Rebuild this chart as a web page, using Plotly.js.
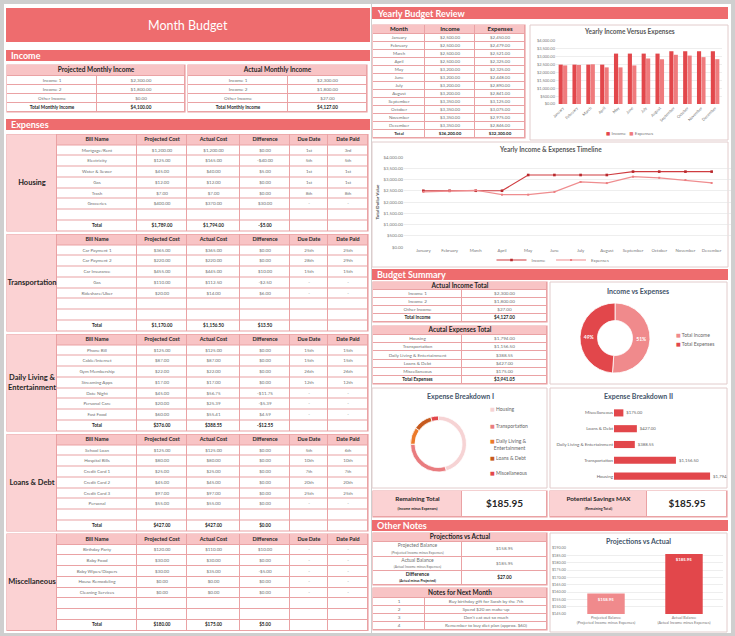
<!DOCTYPE html>
<html>
<head>
<meta charset="utf-8">
<script src="https://cdn.plot.ly/plotly-3.0.1.min.js"></script>
<style>html,body{margin:0;padding:0;background:#cfcfcf;overflow:hidden}#chart{width:735px;height:636px}</style>
</head>
<body>
<div id="chart"></div>
<script>
// ================= DATA =================
const incomeNames = ['Income 1', 'Income 2', 'Other Income', 'Total Monthly Income'];
const projectedIncome = [2300, 1800, 0, 4100];
const actualIncome = [2300, 1800, 27, 4127];

const billColumns = ['Bill Name', 'Projected Cost', 'Actual Cost', 'Difference', 'Due Date', 'Date Paid'];
const expenseCategories = ['Housing', 'Transportation', 'Daily Living & Entertainment', 'Loans & Debt', 'Miscellaneous'];

const housingBills = ['Mortgage/Rent', 'Electricity', 'Water & Sewer', 'Gas', 'Trash', 'Groceries'];
const housingProjected = [1200, 125, 45, 12, 7, 400];
const housingActual = [1200, 165, 40, 12, 7, 370];
const housingDifference = [0, -40, 5, 0, 0, 30];
const housingDue = ['1st', '5th', '1st', '1st', '8th', '-'];
const housingPaid = ['3rd', '5th', '1st', '1st', '8th', '-'];
const housingTotals = [1789, 1794, -5];

const transportBills = ['Car Payment 1', 'Car Payment 2', 'Car Insurance', 'Gas', 'Rideshare/Uber'];
const transportProjected = [365, 220, 455, 110, 20];
const transportActual = [365, 220, 445, 112.5, 14];
const transportDifference = [0, 0, 10, -2.5, 6];
const transportDue = ['25th', '28th', '15th', '-', '-'];
const transportPaid = ['25th', '29th', '15th', '-', '-'];
const transportTotals = [1170, 1156.5, 13.5];

const dailyBills = ['Phone Bill', 'Cable/Internet', 'Gym Membership', 'Streaming Apps', 'Date Night', 'Personal Care', 'Fast Food'];
const dailyProjected = [125, 87, 22, 17, 45, 20, 60];
const dailyActual = [125, 87, 22, 17, 56.75, 25.39, 55.41];
const dailyDifference = [0, 0, 0, 0, -11.75, -5.39, 4.59];
const dailyDue = ['15th', '15th', '26th', '12th', '-', '-', '-'];
const dailyPaid = ['15th', '15th', '26th', '12th', '-', '-', '-'];
const dailyTotals = [376, 388.55, -12.55];

const loanBills = ['School Loan', 'Hospital Bills', 'Credit Card 1', 'Credit Card 2', 'Credit Card 3', 'Personal'];
const loanProjected = [125, 80, 25, 45, 97, 55];
const loanActual = [125, 80, 25, 45, 97, 55];
const loanDifference = [0, 0, 0, 0, 0, 0];
const loanDue = ['5th', '10th', '7th', '20th', '25th', '-'];
const loanPaid = ['6th', '10th', '7th', '20th', '25th', '-'];
const loanTotals = [427, 427, 0];

const miscBills = ['Birthday Party', 'Baby Food', 'Baby Wipes/Diapers', 'House Remodeling', 'Cleaning Services'];
const miscProjected = [120, 30, 30, 0, 0];
const miscActual = [110, 30, 35, 0, 0];
const miscDifference = [10, 0, -5, 0, 0];
const miscDue = ['-', '-', '-', '-', '-'];
const miscPaid = ['-', '-', '-', '-', '-'];
const miscTotals = [180, 175, 5];

const yearlyColumns = ['Month', 'Income', 'Expenses'];
const months = ['January', 'February', 'March', 'April', 'May', 'June', 'July', 'August', 'September', 'October', 'November', 'December'];
const monthlyIncome = [2500, 2500, 2500, 2500, 3200, 3200, 3200, 3200, 3350, 3350, 3350, 3350];
const monthlyExpenses = [2450, 2479, 2521, 2325, 2325, 2448, 2890, 2841, 3125, 3075, 2975, 2846];
const yearlyTotals = [36200, 32300];
const seriesNames = ['Income', 'Expenses'];

const summaryIncomeNames = ['Income 1', 'Income 2', 'Other Income', 'Total Income'];
const summaryIncomeValues = [2300, 1800, 27, 4127];
const expenseActualTotals = [1794, 1156.5, 388.55, 427, 175];
const totalExpenses = 3941.05;
const incomeVsExpenseLabels = ['Total Income', 'Total Expenses'];
const incomeVsExpenseValues = [4127, 3941.05];
const remainingTotal = 185.95;
const potentialSavings = 185.95;

const projectionNames = ['Projected Balance', 'Actual Balance', 'Difference'];
const projectionNotes = ['(Projected Income minus Expenses)', '(Actual Income minus Expenses)', '(Actual minus Projected)'];
const projectionValues = [158.95, 185.95, 27];
const noteNumbers = ['1', '2', '3', '4'];
const notes = ['Buy birthday gift for Sarah by the 7th', 'Spend $20 on make-up', "Don't eat out so much", 'Remember to buy diet plan (approx. $60)'];

// ================= STYLE =================
const W = 735, H = 636;
const FONT = 'Lato, "DejaVu Sans", sans-serif';
const RED = '#ee6c6e';
const HEAD = '#f8c4c5';
const LABEL = '#fbd2d3';
const BORDER = '#eaa2a4';
const DARK = '#e2474b';
const LIGHT = '#ef7b7d';
const PIE_LIGHT = '#f08a8c';
const SLATE = '#44546a';
const GREY = '#6f6f6f';
const DARKT = '#262626';
const BOXLINE = '#e2cccc';
const BREAK_COLORS = ['#f6d3d4', '#e97c7f', '#ec7a2a', '#c65a1e', '#e2474b'];

const fmt = v => (v < 0 ? '-$' : '$') + Math.abs(v).toFixed(2).replace(/\B(?=(\d{3})+(?!\d))/g, ',');
const px = x => x / W;
const py = y => 1 - y / H;
const edges = arr => arr.reduce((a, v) => { a.push(a[a.length - 1] + v); return a; }, [0]);

const traces = [];
const shapes = [];
const annotations = [];
const layout = {
  width: W, height: H, margin: {l: 0, r: 0, t: 0, b: 0},
  paper_bgcolor: '#cfcfcf', plot_bgcolor: 'rgba(0,0,0,0)',
  font: {family: FONT, color: '#666'}, showlegend: true, hovermode: false, dragmode: false,
  shapes: shapes, annotations: annotations
};

let axisCount = 0;
function newAxes(rect, xOpt, yOpt) {
  axisCount++;
  const s = axisCount === 1 ? '' : String(axisCount);
  layout['xaxis' + s] = Object.assign({domain: [px(rect[0]), px(rect[2])], anchor: 'y' + s, fixedrange: true}, xOpt);
  layout['yaxis' + s] = Object.assign({domain: [py(rect[3]), py(rect[1])], anchor: 'x' + s, fixedrange: true}, yOpt);
  return {x: 'x' + s, y: 'y' + s};
}
function rectShape(rect, fill, lineColor, lineWidth) {
  shapes.push({type: 'rect', xref: 'paper', yref: 'paper', x0: px(rect[0]), x1: px(rect[2]), y0: py(rect[3]), y1: py(rect[1]),
    fillcolor: fill, line: {color: lineColor || fill, width: lineWidth || 0}, layer: 'below'});
}
function label(x, y, text, size, color, anchor) {
  annotations.push({xref: 'paper', yref: 'paper', x: px(x), y: py(y), text: text, showarrow: false, align: 'left',
    font: {family: FONT, size: size, color: color}, xanchor: anchor || 'center', yanchor: 'middle'});
}
const swatch = c => '<span style="color:' + c + '">■</span> ';

const PALETTE = ['#ffffff', HEAD, LABEL];
const CSCALE = PALETTE.map((c, i) => [i / (PALETTE.length - 1), c]);
function brickTrace(xe, ye, z, ax) {
  return {type: 'heatmap', x: xe, y: ye, z: z, colorscale: CSCALE, zmin: 0, zmax: PALETTE.length - 1,
    showscale: false, xgap: 1, ygap: 1, hoverinfo: 'skip', xaxis: ax.x, yaxis: ax.y};
}
function drawTable(rect, colW, rowH, cells) {
  const xe = edges(colW), ye = edges(rowH);
  const ax = newAxes(rect,
    {type: 'linear', range: [0, xe[xe.length - 1]], visible: false},
    {type: 'linear', range: [ye[ye.length - 1], 0], visible: false});
  rectShape([rect[0] - 0.6, rect[1] - 0.6, rect[2] + 0.6, rect[3] + 0.6], BORDER);
  const z = rowH.map(() => colW.map(() => 0));
  const merged = [];
  cells.forEach(c => {
    if ((c.rs || 1) === 1 && (c.cs || 1) === 1) z[c.r][c.c] = c.fill || 0;
    else merged.push(c);
  });
  traces.push(brickTrace(xe, ye, z, ax));
  merged.forEach(c => traces.push(brickTrace([xe[c.c], xe[c.c + (c.cs || 1)]], [ye[c.r], ye[c.r + (c.rs || 1)]], [[c.fill || 0]], ax)));
  const t = cells.filter(c => c.text !== undefined && c.text !== '');
  traces.push({type: 'scatter', mode: 'text', xaxis: ax.x, yaxis: ax.y,
    x: t.map(c => (xe[c.c] + xe[c.c + (c.cs || 1)]) / 2),
    y: t.map(c => (ye[c.r] + ye[c.r + (c.rs || 1)]) / 2),
    text: t.map(c => c.text), textposition: 'middle center',
    textfont: {family: FONT, size: t.map(c => c.size), color: t.map(c => c.color)},
    hoverinfo: 'skip', showlegend: false, cliponaxis: false});
}
const b = s => '<b>' + s + '</b>';

function twoColTable(rect, colW, rowH, title, names, values, titleSize) {
  const cells = [{r: 0, c: 0, cs: 2, fill: 1, text: b(title), size: titleSize || 6.5, color: DARKT}];
  names.forEach((n, i) => {
    const last = i === names.length - 1;
    cells.push({r: i + 1, c: 0, text: last ? b(n) : n, size: 4.6, color: last ? DARKT : GREY});
    cells.push({r: i + 1, c: 1, text: last ? b(fmt(values[i])) : fmt(values[i]), size: 4.6, color: last ? DARKT : GREY});
  });
  drawTable(rect, colW, rowH, cells);
}

// ================= BACKGROUND PANELS =================
rectShape([4, 4, 371, 633], '#ffffff');
rectShape([372, 4, 731, 633], '#ffffff');

// ================= LEFT: MONTH BUDGET =================
rectShape([6, 8, 370, 42], RED);
label(188, 25, 'Month Budget', 12.5, '#ffffff');
rectShape([6, 50, 370, 61], RED);
label(9, 55.5, b('Income'), 9, '#ffffff', 'left');

twoColTable([7, 65, 185, 112], [90, 88], [11, 9, 9, 9, 9], 'Projected Monthly Income', incomeNames, projectedIncome);
twoColTable([188, 65, 367, 112], [100, 79], [11, 9, 9, 9, 9], 'Actual Monthly Income', incomeNames, actualIncome);

rectShape([6, 119, 370, 130], RED);
label(9, 124.5, b('Expenses'), 9, '#ffffff', 'left');

const sections = [
  [housingBills, housingProjected, housingActual, housingDifference, housingDue, housingPaid, housingTotals],
  [transportBills, transportProjected, transportActual, transportDifference, transportDue, transportPaid, transportTotals],
  [dailyBills, dailyProjected, dailyActual, dailyDifference, dailyDue, dailyPaid, dailyTotals],
  [loanBills, loanProjected, loanActual, loanDifference, loanDue, loanPaid, loanTotals],
  [miscBills, miscProjected, miscActual, miscDifference, miscDue, miscPaid, miscTotals]
];
const sectionTops = [134.5, 234.5, 334.5, 434.5, 534];
sections.forEach((s, k) => {
  const [bills, proj, act, diff, due, paid, totals] = s;
  const top = sectionTops[k];
  const cells = [{r: 0, c: 0, rs: 9, fill: 2, text: b(expenseCategories[k].replace(' & Entertainment', ' &<br>Entertainment')), size: 7.5, color: DARKT}];
  billColumns.forEach((h, j) => cells.push({r: 0, c: j + 1, fill: 1, text: b(h), size: 5.4, color: DARKT}));
  bills.forEach((name, i) => {
    [name, fmt(proj[i]), fmt(act[i]), fmt(diff[i]), due[i], paid[i]].forEach((t, j) =>
      cells.push({r: i + 1, c: j + 1, text: t, size: 4.5, color: GREY}));
  });
  ['Total', fmt(totals[0]), fmt(totals[1]), fmt(totals[2])].forEach((t, j) =>
    cells.push({r: 8, c: j + 1, text: b(t), size: 4.6, color: DARKT}));
  drawTable([7, top, 368, top + 96.5], [50, 80, 50, 53, 50, 38, 40], Array(9).fill(96.5 / 9), cells);
});

// ================= RIGHT: YEARLY BUDGET REVIEW =================
rectShape([372, 7, 728, 19], RED);
label(375, 13, b('Yearly Budget Review'), 9, '#ffffff', 'left');
(function () {
  const cells = [];
  yearlyColumns.forEach((h, j) => cells.push({r: 0, c: j, fill: 1, text: b(h), size: 6, color: DARKT}));
  months.forEach((m, i) => {
    [m, fmt(monthlyIncome[i]), fmt(monthlyExpenses[i])].forEach((t, j) =>
      cells.push({r: i + 1, c: j, text: t, size: 4.4, color: GREY}));
  });
  ['Total', fmt(yearlyTotals[0]), fmt(yearlyTotals[1])].forEach((t, j) =>
    cells.push({r: 13, c: j, text: b(t), size: 4.4, color: DARKT}));
  drawTable([373, 25, 525, 138], [52, 50, 50], [9].concat(Array(13).fill(8)), cells);
})();

// Chart: Yearly Income Versus Expenses
rectShape([530, 25, 728, 140], '#ffffff', BOXLINE, 1);
label(629, 31.5, b('Yearly Income Versus Expenses'), 6.5, '#595959');
const a1 = newAxes([556, 41, 722, 104],
  {type: 'category', tickangle: -45, tickfont: {size: 4, color: '#777'}, showgrid: false, ticks: '', zeroline: false, showline: false},
  {range: [0, 4000], dtick: 500, tickformat: '$,.2f', tickfont: {size: 4, color: '#777'}, gridcolor: '#e3e3e3', gridwidth: 0.6, zeroline: false, ticks: ''});
traces.push({type: 'bar', name: seriesNames[0], x: months, y: monthlyIncome, width: 0.3, offset: -0.31, marker: {color: DARK}, xaxis: a1.x, yaxis: a1.y, showlegend: false});
traces.push({type: 'bar', name: seriesNames[1], x: months, y: monthlyExpenses, width: 0.3, offset: 0.01, marker: {color: LIGHT}, xaxis: a1.x, yaxis: a1.y, showlegend: false});
label(629, 133, swatch(DARK) + seriesNames[0] + '   ' + swatch(LIGHT) + seriesNames[1], 4.5, '#777');

// Chart: Timeline
rectShape([372, 142, 728, 267], '#ffffff', BOXLINE, 1);
label(550, 149, b('Yearly Income & Expenses Timeline'), 6.5, '#595959');
const a2 = newAxes([404, 157, 731, 247],
  {type: 'category', tickangle: 0, tickfont: {size: 4.3, color: '#777'}, showgrid: false, ticks: '', zeroline: false, showline: false},
  {range: [0, 4000], dtick: 500, tickformat: '$,.2f', tickfont: {size: 4.3, color: '#777'}, gridcolor: '#e3e3e3', gridwidth: 0.6, zeroline: false, ticks: '',
   title: {text: 'Total Dollar Value', font: {size: 4.5, color: '#444', weight: 'bold'}, standoff: 3}});
traces.push({type: 'scatter', mode: 'lines+markers', name: seriesNames[0], x: months, y: monthlyIncome, line: {color: '#cf3c40', width: 1.2}, marker: {symbol: 'square', size: 2.6, color: '#b8282c'}, xaxis: a2.x, yaxis: a2.y, legend: 'legend2'});
traces.push({type: 'scatter', mode: 'lines+markers', name: seriesNames[1], x: months, y: monthlyExpenses, line: {color: '#ef8d8f', width: 1.2}, marker: {symbol: 'square', size: 2, color: '#ec7f82'}, xaxis: a2.x, yaxis: a2.y, legend: 'legend2'});
layout.legend2 = {orientation: 'h', x: px(553), xanchor: 'center', y: py(260), yanchor: 'middle', font: {size: 4.3, color: '#777'}, bgcolor: 'rgba(0,0,0,0)'};

// ================= BUDGET SUMMARY =================
rectShape([372, 269, 728, 280], RED);
label(375, 274.5, b('Budget Summary'), 9, '#ffffff', 'left');
twoColTable([373, 282, 547, 322], [89, 85], [8, 8, 8, 8, 8], 'Actual Income Total', summaryIncomeNames, summaryIncomeValues);
twoColTable([373, 326, 547, 384], [89, 85], [9].concat(Array(6).fill(49 / 6)), 'Acutal Expenses Total',
  expenseCategories.concat(['Total Expenses']), expenseActualTotals.concat([totalExpenses]));

// Income vs Expenses donut
rectShape([550, 282, 727, 384], '#ffffff', BOXLINE, 1);
label(638, 290.5, b('Income vs Expenses'), 7, SLATE);
const incomePieColors = [PIE_LIGHT, DARK];
traces.push({type: 'pie', labels: incomeVsExpenseLabels, values: incomeVsExpenseValues, hole: 0.5, sort: false, direction: 'clockwise', rotation: 0,
  marker: {colors: incomePieColors, line: {color: '#ffffff', width: 0.8}},
  texttemplate: '<b>%{percent:.0%}</b>', textposition: 'inside', insidetextorientation: 'horizontal', textfont: {size: 5, color: '#ffffff'},
  domain: {x: [px(580), px(650)], y: [py(373), py(303)]}, showlegend: false, hoverinfo: 'skip'});
incomeVsExpenseLabels.forEach((l, i) => label(674, 335 + 9 * i, swatch(incomePieColors[i]) + l, 5, '#666', 'left'));

// Expense Breakdown I
rectShape([372, 388, 547, 488], '#ffffff', BOXLINE, 1);
label(460, 396, b('Expense Breakdown I'), 7, SLATE);
traces.push({type: 'pie', labels: expenseCategories, values: expenseActualTotals,
  hole: 0.84, sort: false, direction: 'clockwise', rotation: 0, textinfo: 'none',
  marker: {colors: BREAK_COLORS, line: {color: '#ffffff', width: 0.8}},
  domain: {x: [px(410), px(467)], y: [py(472), py(416)]}, showlegend: false, hoverinfo: 'skip'});
const breakLegendY = [409, 426, 444, 458, 473];
expenseCategories.forEach((l, i) => label(488, breakLegendY[i],
  swatch(BREAK_COLORS[i]) + l.replace(' & Entertainment', ' &<br>\u00a0\u00a0\u00a0Entertainment'), 5, '#666', 'left'));

// Expense Breakdown II
rectShape([550, 388, 727, 488], '#ffffff', BOXLINE, 1);
label(638, 396, b('Expense Breakdown II'), 7, SLATE);
const a5 = newAxes([614, 405, 727, 484],
  {range: [0, 2110], visible: false},
  {type: 'category', tickfont: {size: 4.5, color: '#666'}, ticks: '', showgrid: false, zeroline: false, showline: false});
traces.push({type: 'bar', orientation: 'h', y: expenseCategories, x: expenseActualTotals, width: 0.45, marker: {color: DARK},
  text: expenseActualTotals.map(fmt), textposition: 'outside', textfont: {size: 4.3, color: '#666'}, constraintext: 'none', cliponaxis: true,
  xaxis: a5.x, yaxis: a5.y, showlegend: false, hoverinfo: 'skip'});

// Remaining boxes
drawTable([373, 491, 547, 517], [89, 85], [26], [
  {r: 0, c: 0, fill: 2, text: b('Remaining Total') + '<br><span style="font-size:3.6px">' + b('(Income minus Expenses)') + '</span>', size: 6.3, color: DARKT},
  {r: 0, c: 1, text: b(fmt(remainingTotal)), size: 10, color: DARKT}]);
drawTable([550, 491, 727, 517], [97, 80], [26], [
  {r: 0, c: 0, fill: 2, text: b('Potential Savings MAX') + '<br><span style="font-size:3.6px">' + b('(Remaining Total)') + '</span>', size: 6.3, color: DARKT},
  {r: 0, c: 1, text: b(fmt(potentialSavings)), size: 10, color: DARKT}]);

// ================= OTHER NOTES =================
rectShape([372, 520, 728, 531], RED);
label(375, 525.5, b('Other Notes'), 9, '#ffffff', 'left');
(function () {
  const cells = [{r: 0, c: 0, cs: 2, fill: 1, text: b('Projections vs Actual'), size: 6.5, color: DARKT}];
  projectionNames.forEach((n, i) => {
    const last = i === projectionNames.length - 1;
    const lab = (last ? b(n) : n) + '<br><span style="font-size:3.4px">' + (last ? b(projectionNotes[i]) : projectionNotes[i]) + '</span>';
    cells.push({r: i + 1, c: 0, text: lab, size: 5, color: last ? DARKT : GREY});
    cells.push({r: i + 1, c: 1, text: last ? b(fmt(projectionValues[i])) : fmt(projectionValues[i]), size: 4.6, color: last ? DARKT : GREY});
  });
  drawTable([373, 533, 547, 585], [89, 85], [9, 14.5, 14, 14.5], cells);
})();
(function () {
  const cells = [{r: 0, c: 0, cs: 2, fill: 1, text: b('Notes for Next Month'), size: 6.5, color: DARKT}];
  notes.forEach((n, i) => {
    cells.push({r: i + 1, c: 0, text: noteNumbers[i], size: 4.6, color: GREY});
    cells.push({r: i + 1, c: 1, text: n, size: 4.6, color: GREY});
  });
  drawTable([373, 588, 547, 630], [52, 122], [10, 8, 8, 8, 8], cells);
})();

// Projections vs Actual chart
rectShape([550, 533, 727, 632], '#ffffff', BOXLINE, 1);
label(638, 541, b('Projections vs Actual'), 7, SLATE);
const a6 = newAxes([567, 548, 723, 614],
  {type: 'category', tickfont: {size: 3.8, color: '#777'}, ticks: '', showgrid: false, zeroline: false, showline: false},
  {range: [145, 190], dtick: 5, tickformat: '$,.2f', tickfont: {size: 3.8, color: '#777'}, gridcolor: '#e3e3e3', gridwidth: 0.6, zeroline: false, ticks: ''});
traces.push({type: 'bar', x: projectionNames.slice(0, 2).map((n, i) => n + '<br>' + projectionNotes[i]), y: projectionValues.slice(0, 2),
  width: 0.48, marker: {color: [PIE_LIGHT, DARK]},
  text: projectionValues.slice(0, 2).map(v => b(fmt(v))), textposition: 'inside', insidetextanchor: 'end', constraintext: 'none',
  textfont: {size: 4.3, color: '#ffffff'}, xaxis: a6.x, yaxis: a6.y, showlegend: false, hoverinfo: 'skip'});

Plotly.newPlot('chart', traces, layout, {staticPlot: true, displayModeBar: false});
</script>
</body>
</html>
